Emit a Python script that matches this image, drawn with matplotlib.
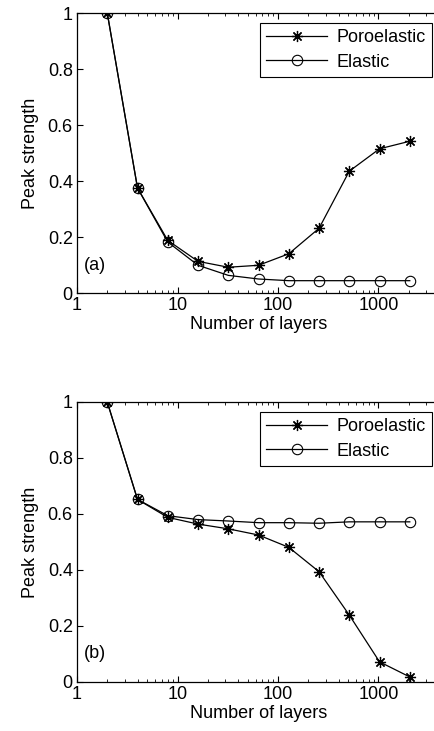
import numpy as np
import matplotlib
matplotlib.use('Agg')
import matplotlib.pyplot as plt
from matplotlib.ticker import FixedLocator, LogLocator, NullFormatter

plt.rcParams['font.family'] = ['Liberation Sans', 'DejaVu Sans']

layers = [2, 4, 8, 16, 32, 64, 128, 256, 512, 1024, 2048]

# panel (a)
poro_a = [1.0, 0.375, 0.188, 0.113, 0.092, 0.099, 0.140, 0.231, 0.435, 0.515, 0.542]
elas_a = [1.0, 0.375, 0.182, 0.099, 0.063, 0.050, 0.044, 0.044, 0.044, 0.044, 0.044]

# panel (b)
poro_b = [1.0, 0.652, 0.588, 0.564, 0.547, 0.525, 0.481, 0.394, 0.239, 0.072, 0.018]
elas_b = [1.0, 0.652, 0.594, 0.580, 0.575, 0.569, 0.569, 0.567, 0.572, 0.572, 0.572]

xticks = [1, 10, 100, 1000]
xticklabels = ['1', '10', '100', '1000']
yticks = [0, 0.2, 0.4, 0.6, 0.8, 1]
yticklabels = ['0', '0.2', '0.4', '0.6', '0.8', '1']

W, H = 435, 731
fig = plt.figure(figsize=(W / 100, H / 100), dpi=100)

star = (8, 2, 0)
fs = 13


def panel(top_px, poro, elas, tag):
    left = 77
    decade = 100.5
    xmax = 4096
    right = left + np.log10(xmax) * decade
    bottom = top_px + 280
    ax = fig.add_axes([left / W, 1 - bottom / H, (right - left) / W, 280 / H])
    ax.plot(layers, poro, color='k', lw=0.9, marker=star, ms=8, mew=0.9,
            label='Poroelastic')
    ax.plot(layers, elas, color='k', lw=0.9, marker='o', ms=7.5, mfc='none',
            mew=0.8, label='Elastic')
    ax.set_xscale('log')
    ax.set_xlim(1, xmax)
    ax.set_ylim(0, 1)
    ax.xaxis.set_major_locator(FixedLocator(xticks))
    ax.set_xticklabels(xticklabels)
    ax.xaxis.set_minor_locator(LogLocator(base=10, subs=np.arange(2, 10)))
    ax.xaxis.set_minor_formatter(NullFormatter())
    ax.set_yticks(yticks)
    ax.set_yticklabels(yticklabels)
    ax.tick_params(which='both', direction='in', top=True, right=False,
                   labelsize=fs, colors='k')
    ax.tick_params(which='major', length=4, pad=3)
    ax.tick_params(which='minor', length=2)
    for s in ax.spines.values():
        s.set_linewidth(0.9)
    # the right edge of the box lies outside the picture
    ax.spines['right'].set_visible(False)
    ax.set_xlabel('Number of layers', fontsize=fs, labelpad=1)
    ax.set_ylabel('Peak strength', fontsize=fs, labelpad=6)
    ax.text(1.18, 0.1, tag, fontsize=fs, va='center', ha='left')
    leg = ax.legend(loc='upper right', bbox_to_anchor=(432 / W, 1 - (top_px + 10) / H),
                    bbox_transform=fig.transFigure, fontsize=fs, fancybox=False,
                    edgecolor='k', framealpha=1, borderaxespad=0, handlelength=3.4,
                    handletextpad=0.5, borderpad=0.35, labelspacing=0.4)
    leg.get_frame().set_linewidth(0.8)
    return ax


panel(13, poro_a, elas_a, '(a)')
panel(402, poro_b, elas_b, '(b)')

fig.savefig('out.png', dpi=100)
